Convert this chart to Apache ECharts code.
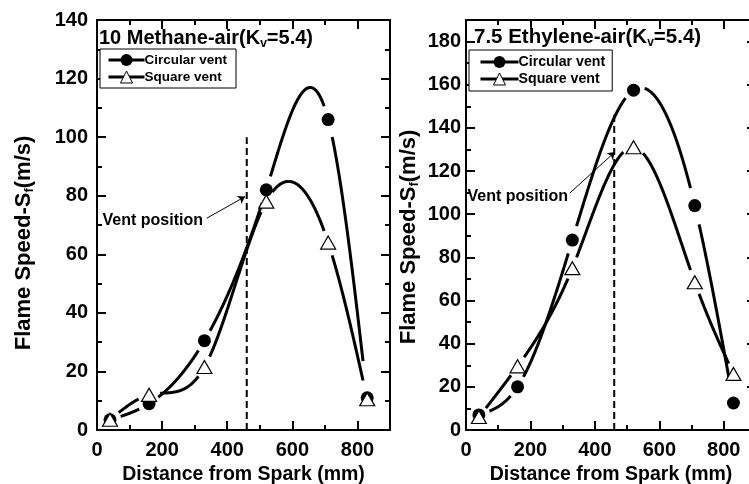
<!DOCTYPE html>
<html>
<head>
<meta charset="utf-8">
<script src="https://cdn.jsdelivr.net/npm/echarts@6/dist/echarts.min.js"></script>
<style>
  html, body { margin: 0; padding: 0; background: #fff; }
  #chart { width: 749px; height: 484px; }
</style>
</head>
<body>
<div id="chart"></div>
<script>
// distance from spark (mm) for the six measuring points
const distance = [40, 160, 330, 520, 710, 830]
const methaneCircular = [3.5, 9, 30.5, 82, 106, 11]
const methaneSquare = [3.5, 12, 21.5, 78, 64, 10.5]
const ethyleneCircular = [7, 20, 88, 157.5, 104, 12.5]
const ethyleneSquare = [6, 29.5, 75, 131, 68.5, 26]

const xMax = 900
const xMajor = 200
const xMinor = 100
const methaneYMax = 140
const ethyleneYMax = 190
const yMajor = 20
const yMinor = 10
const ventX = 460

const FONT = '"Liberation Sans", Arial, sans-serif'
const BLACK = '#000'
const GAP_X = 4
const GAP_R = 11

const panels = [
  {
    title: '10 Methane-air(K{sub|v}=5.4)',
    circular: methaneCircular,
    square: methaneSquare,
    yMax: methaneYMax,
    ventTop: 100,
    arrow: [[337, 72.3], [455, 79.7]],
    grid: { left: 97, top: 20, width: 293, height: 410 },
    titlePos: { left: 99, top: 26 },
    titleSize: 20,
    legend: { left: 100, top: 49, padding: [4, 9, 4, 7], itemWidth: 36, fontSize: 13.5 },
    ventText: { x: 203, y: 221 },
    yNameGap: 61,
    yNamePad: 36,
    yLabelMargin: 9,
  },
  {
    title: '7.5 Ethylene-air(K{sub|v}=5.4)',
    circular: ethyleneCircular,
    square: ethyleneSquare,
    yMax: ethyleneYMax,
    ventTop: 147,
    arrow: [[322, 109.8], [462, 128.8]],
    grid: { left: 466, top: 20, width: 290, height: 410 },
    titlePos: { left: 474, top: 25 },
    titleSize: 20.5,
    legend: { left: 469, top: 50, padding: [5, 7, 5, 10], itemWidth: 38, fontSize: 14.2 },
    ventText: { x: 568, y: 197 },
    yNameGap: 45,
    yNamePad: 24,
    yLabelMargin: 5,
  },
]

const pairs = (ys) => distance.map((x, i) => [x, ys[i]])

const subRich = (size) => ({
  sub: {
    fontSize: size,
    fontWeight: 'bold',
    fontFamily: FONT,
    color: BLACK,
    verticalAlign: 'top',
    padding: [12, 0, 0, 0],
  },
})

// natural cubic spline through the measured points (the way the original plot joined them)
function naturalSpline(xs, ys) {
  const n = xs.length
  const h = []
  const d = []
  for (let i = 0; i < n - 1; i++) {
    h[i] = xs[i + 1] - xs[i]
    d[i] = (ys[i + 1] - ys[i]) / h[i]
  }
  const M = new Array(n).fill(0)
  const b = []
  const r = []
  for (let i = 1; i < n - 1; i++) {
    b[i] = 2 * (h[i - 1] + h[i])
    r[i] = 6 * (d[i] - d[i - 1])
  }
  for (let i = 2; i < n - 1; i++) {
    const w = h[i - 1] / b[i - 1]
    b[i] -= w * h[i - 1]
    r[i] -= w * r[i - 1]
  }
  M[n - 2] = r[n - 2] / b[n - 2]
  for (let i = n - 3; i >= 1; i--) M[i] = (r[i] - h[i] * M[i + 1]) / b[i]

  return (x) => {
    let k = 0
    while (k < n - 2 && x > xs[k + 1]) k++
    const A = xs[k + 1] - x
    const B = x - xs[k]
    const hk = h[k]
    return (
      (M[k] * A * A * A) / (6 * hk) +
      (M[k + 1] * B * B * B) / (6 * hk) +
      (ys[k] / hk - (M[k] * hk) / 6) * A +
      (ys[k + 1] / hk - (M[k + 1] * hk) / 6) * B
    )
  }
}

function curveSeries(on, ys) {
  const spline = naturalSpline(distance, ys)
  const x0 = distance[0]
  const x1 = distance[distance.length - 1]
  return {
    ...on,
    type: 'custom',
    data: pairs(ys),
    silent: true,
    z: 2,
    renderItem(params, api) {
      if (params.dataIndex !== 0) return null
      const knots = distance.map((x, i) => api.coord([x, ys[i]]))
      const runs = []
      let run = []
      const steps = 800
      for (let s = 0; s <= steps; s++) {
        const x = x0 + ((x1 - x0) * s) / steps
        const pt = api.coord([x, spline(x)])
        const hidden = knots.some(
          (k) => Math.abs(pt[0] - k[0]) < GAP_X || Math.hypot(pt[0] - k[0], pt[1] - k[1]) < GAP_R
        )
        if (hidden) {
          if (run.length > 1) runs.push(run)
          run = []
        } else {
          run.push(pt)
        }
      }
      if (run.length > 1) runs.push(run)
      return {
        type: 'group',
        children: runs.map((pts) => ({
          type: 'polyline',
          shape: { points: pts },
          style: { stroke: BLACK, lineWidth: 3, fill: null },
        })),
      }
    },
  }
}

function frameAxes(dim, g, p) {
  const max = dim === 'x' ? xMax : p.yMax
  const major = dim === 'x' ? xMajor : yMajor
  const minor = dim === 'x' ? xMinor : yMinor
  const [near, far] = dim === 'x' ? ['bottom', 'top'] : ['left', 'right']
  const base = {
    type: 'value',
    gridIndex: g,
    min: 0,
    max: max,
    splitLine: { show: false },
    axisLabel: { show: false },
  }
  const line = { show: true, onZero: false, lineStyle: { color: BLACK, width: 2 } }
  const noLine = { show: false, onZero: false }
  const majorTick = { inside: true, length: 9, lineStyle: { color: BLACK, width: 2 } }
  const minorTick = { inside: true, length: 5, lineStyle: { color: BLACK, width: 2 } }

  const main = {
    ...base,
    position: near,
    interval: major,
    axisLine: line,
    axisTick: majorTick,
    axisLabel: {
      show: true,
      showMaxLabel: max % major === 0,
      color: BLACK,
      fontSize: 20,
      fontWeight: 'bold',
      fontFamily: FONT,
      margin: dim === 'x' ? 10 : p.yLabelMargin,
    },
    nameLocation: 'middle',
    nameTextStyle: { color: BLACK, fontWeight: 'bold', fontFamily: FONT, rich: subRich(13) },
  }
  if (dim === 'x') {
    main.name = 'Distance from Spark (mm)'
    main.nameGap = 30
    main.nameTextStyle.fontSize = 19.5
  } else {
    main.name = 'Flame Speed-S{sub|f}(m/s)'
    main.nameGap = p.yNameGap
    main.nameTextStyle.fontSize = 22
    main.nameTextStyle.padding = [0, p.yNamePad, 0, 0]
  }
  return [
    main,
    { ...base, position: near, interval: minor, axisLine: noLine, axisTick: minorTick },
    { ...base, position: far, interval: major, axisLine: line, axisTick: majorTick },
    { ...base, position: far, interval: minor, axisLine: noLine, axisTick: minorTick },
  ]
}

const xAxis = []
const yAxis = []
const series = []

panels.forEach((p, g) => {
  const axisIdx = xAxis.length
  xAxis.push(...frameAxes('x', g, p))
  yAxis.push(...frameAxes('y', g, p))
  const on = { xAxisIndex: axisIdx, yAxisIndex: axisIdx }

  series.push(curveSeries(on, p.circular))
  series.push(curveSeries(on, p.square))

  // symbols (the line itself is drawn by the spline series)
  series.push({
    ...on,
    type: 'line',
    name: 'Circular vent',
    data: pairs(p.circular),
    symbol: 'circle',
    symbolSize: 13,
    showSymbol: true,
    lineStyle: { color: BLACK, width: 3, opacity: 0 },
    itemStyle: { color: BLACK },
    z: 4,
  })
  series.push({
    ...on,
    type: 'line',
    name: 'Square vent',
    data: pairs(p.square),
    symbol: 'triangle',
    symbolSize: [15, 13],
    showSymbol: true,
    lineStyle: { color: BLACK, width: 3, opacity: 0 },
    itemStyle: { color: '#fff', borderColor: BLACK, borderWidth: 1.2 },
    z: 5,
  })

  // vent position
  series.push({
    ...on,
    type: 'line',
    data: [[ventX, 0], [ventX, p.ventTop]],
    symbol: 'none',
    lineStyle: { color: BLACK, width: 2, type: [7, 4] },
    silent: true,
    z: 1,
    markLine: {
      silent: true,
      symbol: ['none', 'arrow'],
      symbolSize: 7,
      label: { show: false },
      lineStyle: { color: BLACK, width: 1, type: 'solid' },
      data: [[{ coord: p.arrow[0] }, { coord: p.arrow[1] }]],
    },
  })
})

const chart = echarts.init(document.getElementById('chart'))

chart.setOption({
  animation: false,
  backgroundColor: '#fff',
  textStyle: { fontFamily: FONT },
  title: panels.map((p) => ({
    text: p.title,
    left: p.titlePos.left,
    top: p.titlePos.top,
    padding: 0,
    textStyle: {
      color: BLACK,
      fontSize: p.titleSize,
      fontWeight: 'bold',
      fontFamily: FONT,
      rich: subRich(12),
    },
  })),
  legend: panels.map((p) => ({
    left: p.legend.left,
    top: p.legend.top,
    orient: 'vertical',
    data: ['Circular vent', 'Square vent'],
    backgroundColor: '#fff',
    borderColor: BLACK,
    borderWidth: 1,
    borderRadius: 0,
    padding: p.legend.padding,
    itemGap: 3,
    itemWidth: p.legend.itemWidth,
    itemHeight: 15,
    selectedMode: false,
    lineStyle: { color: BLACK, width: 3, opacity: 1 },
    itemStyle: { borderWidth: 1 },
    textStyle: {
      color: BLACK,
      fontSize: p.legend.fontSize,
      fontWeight: 'bold',
      fontFamily: FONT,
      padding: [0, 0, 0, -5],
    },
  })),
  grid: panels.map((p) => ({ ...p.grid, containLabel: false, outerBoundsMode: 'none' })),
  xAxis,
  yAxis,
  series,
  graphic: panels.map((p) => ({
    type: 'text',
    x: p.ventText.x,
    y: p.ventText.y,
    style: {
      text: 'Vent position',
      align: 'right',
      verticalAlign: 'middle',
      fill: BLACK,
      font: 'bold 16px ' + FONT,
    },
  })),
})

window.addEventListener('resize', () => chart.resize())
</script>
</body>
</html>
